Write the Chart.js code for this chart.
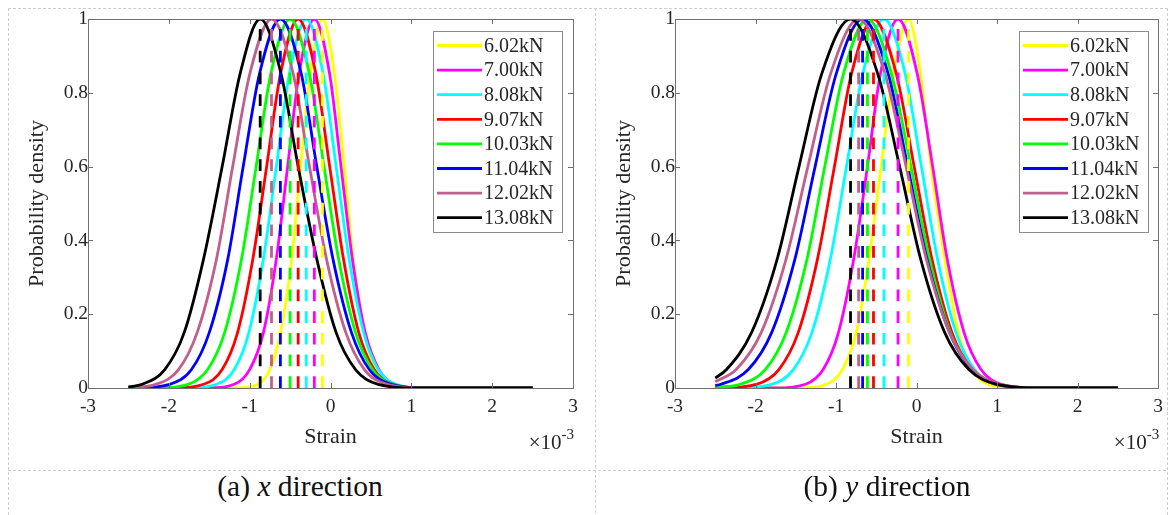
<!DOCTYPE html>
<html>
<head>
<meta charset="utf-8">
<script src="https://cdn.jsdelivr.net/npm/chart.js@4.4.0/dist/chart.umd.min.js"></script>
<style>
  body { margin: 0; width: 1170px; height: 515px; background: #fff; position: relative; overflow: hidden; font-family: "Liberation Serif", serif; }
  .frame { position: absolute; left: 8px; top: 8px; width: 1158px; height: 530px; border: 1px dashed #cdcdcd; }
  .vline { position: absolute; left: 595px; top: 8px; height: 530px; border-left: 1px dashed #cdcdcd; }
  .hline { position: absolute; left: 8px; top: 470px; width: 1158px; border-top: 1px dashed #cdcdcd; }
  canvas { position: absolute; top: 0; }
  .caption { position: absolute; top: 470px; height: 32px; line-height: 32px; font-size: 29.5px; color: #111; text-align: center; width: 400px; }
</style>
</head>
<body>
<div class="frame"></div>
<div class="vline"></div>
<div class="hline"></div>
<canvas id="chartA" width="596" height="470" style="left:0px"></canvas>
<canvas id="chartB" width="583" height="470" style="left:587px"></canvas>
<div class="caption" style="left:100px">(a) <i>x</i> direction</div>
<div class="caption" style="left:687px">(b) <i>y</i> direction</div>

<script>
// Нагрузки и цвета линий
const loads = ['6.02kN', '7.00kN', '8.08kN', '9.07kN', '10.03kN', '11.04kN', '12.02kN', '13.08kN'];
const colors = ['#ffff00', '#ff00ff', '#00ffff', '#ff0000', '#00ff00', '#0000ff', '#c0608c', '#000000'];

// Уровни плотности, на которых сняты точки кривых (слева направо)
const levels = [0, 0.01, 0.05, 0.15, 0.35, 0.6, 0.85, 1, 0.85, 0.6, 0.35, 0.15, 0.05, 0.01, 0];

// Ось x: отсчёты деформации (x10^-3), где кривая проходит каждый уровень
const strainA = [
    [-1.16, -0.90, -0.75, -0.62, -0.48, -0.37, -0.25, -0.10, 0.05, 0.17, 0.28, 0.42, 0.55, 0.70, 0.96],
    [-1.50, -1.19, -1.00, -0.83, -0.67, -0.53, -0.39, -0.20, -0.01, 0.13, 0.27, 0.43, 0.60, 0.79, 1.10],
    [-1.76, -1.41, -1.19, -1.01, -0.83, -0.67, -0.51, -0.30, -0.09, 0.07, 0.23, 0.41, 0.59, 0.81, 1.16],
    [-1.94, -1.57, -1.34, -1.15, -0.96, -0.79, -0.62, -0.40, -0.18, -0.01, 0.16, 0.35, 0.54, 0.77, 1.14],
    [-2.16, -1.76, -1.52, -1.31, -1.10, -0.92, -0.74, -0.50, -0.26, -0.08, 0.10, 0.31, 0.52, 0.76, 1.16],
    [-2.42, -1.99, -1.72, -1.50, -1.27, -1.08, -0.88, -0.62, -0.36, -0.17, 0.03, 0.26, 0.48, 0.75, 1.18],
    [null, -2.16, -1.88, -1.65, -1.41, -1.21, -1.00, -0.73, -0.46, -0.26, -0.05, 0.19, 0.42, 0.70, 1.15],
    [null, -2.33, -2.05, -1.81, -1.57, -1.34, -1.12, -0.87, -0.61, -0.40, -0.17, 0.07, 0.31, 0.59, 1.05]
];
const strainB = [
    [-1.44, -1.12, -0.92, -0.75, -0.59, -0.44, -0.29, -0.10, 0.05, 0.18, 0.35, 0.52, 0.69, 0.89, 1.20],
    [-1.75, -1.38, -1.16, -0.97, -0.78, -0.61, -0.45, -0.23, 0.01, 0.20, 0.38, 0.59, 0.80, 1.05, 1.45],
    [-2.25, -1.80, -1.53, -1.30, -1.07, -0.87, -0.67, -0.405, -0.14, 0.06, 0.26, 0.49, 0.72, 1.00, 1.44],
    [-2.46, -1.99, -1.71, -1.47, -1.23, -1.02, -0.81, -0.535, -0.25, -0.03, 0.19, 0.44, 0.69, 0.98, 1.47],
    [null, -2.19, -1.88, -1.62, -1.36, -1.14, -0.91, -0.61, -0.31, -0.07, 0.16, 0.42, 0.69, 1.00, 1.51],
    [null, -2.43, -2.09, -1.80, -1.51, -1.26, -1.00, -0.67, -0.35, -0.11, 0.13, 0.41, 0.69, 1.01, 1.55],
    [null, null, -2.24, -1.93, -1.62, -1.35, -1.07, -0.72, -0.39, -0.13, 0.12, 0.41, 0.70, 1.04, 1.60],
    [null, null, -2.36, -2.05, -1.73, -1.46, -1.18, -0.82, -0.48, -0.21, 0.05, 0.35, 0.65, 1.00, 1.58]
];

// Значение плотности в начале кривой (x = -2.5)
const startA = [0, 0, 0, 0, 0, 0, 0.001, 0.003];
const startB = [0, 0, 0, 0.0005, 0.002, 0.007, 0.017, 0.027];

// Средние значения (пунктирные линии)
const meanA = [-0.10, -0.20, -0.30, -0.40, -0.50, -0.62, -0.73, -0.87];
const meanB = [-0.10, -0.23, -0.405, -0.535, -0.61, -0.67, -0.72, -0.82];

// Границы кривых и шкал
const xStart = -2.5, xEnd = 2.5;
const xTicks = [-3, -2, -1, 0, 1, 2, 3];
const yTicks = [0, 0.2, 0.4, 0.6, 0.8, 1];

const FONT = '"Liberation Serif", "Times New Roman", serif';
const TEXT = '#262626';

function curvePoints(xs, start) {
    const pts = [{ x: xStart, y: start }];
    xs.forEach((x, i) => {
        if (x !== null && x > xStart) pts.push({ x: x, y: levels[i] });
    });
    pts.push({ x: xEnd, y: 0 });
    return pts;
}

// Рамка осей и внутренние штрихи как в MATLAB
const axesBox = {
    id: 'axesBox',
    afterDatasetsDraw(chart) {
        const { ctx, chartArea: a, scales } = chart;
        ctx.save();
        ctx.strokeStyle = '#707070';
        ctx.lineWidth = 1;
        ctx.strokeRect(Math.round(a.left) + 0.5, Math.round(a.top) + 0.5, Math.round(a.right - a.left), Math.round(a.bottom - a.top));
        ctx.beginPath();
        xTicks.forEach(v => {
            const px = Math.round(scales.x.getPixelForValue(v)) + 0.5;
            ctx.moveTo(px, a.bottom); ctx.lineTo(px, a.bottom - 5);
            ctx.moveTo(px, a.top); ctx.lineTo(px, a.top + 5);
        });
        yTicks.forEach(v => {
            const py = Math.round(scales.y.getPixelForValue(v)) + 0.5;
            ctx.moveTo(a.left, py); ctx.lineTo(a.left + 5, py);
            ctx.moveTo(a.right, py); ctx.lineTo(a.right - 5, py);
        });
        ctx.stroke();

        // множитель оси x
        ctx.fillStyle = TEXT;
        ctx.textAlign = 'right';
        ctx.textBaseline = 'alphabetic';
        ctx.font = '15px ' + FONT;
        const supW = ctx.measureText('-3').width;
        ctx.fillText('-3', a.right + 1, 439);
        ctx.font = '21px ' + FONT;
        ctx.fillText('\u00d710', a.right + 1 - supW, 449);
        ctx.restore();
    }
};

// Легенда в рамке (правый верхний угол)
const boxLegend = {
    id: 'boxLegend',
    afterDraw(chart, args, opts) {
        const { ctx } = chart;
        ctx.save();
        ctx.fillStyle = '#fff';
        ctx.fillRect(opts.x, opts.y, opts.w, opts.h);
        ctx.strokeStyle = '#8a8a8a';
        ctx.lineWidth = 1;
        ctx.strokeRect(opts.x + 0.5, opts.y + 0.5, opts.w, opts.h);
        ctx.font = '20px ' + FONT;
        ctx.textBaseline = 'middle';
        ctx.textAlign = 'left';
        loads.forEach((name, i) => {
            const cy = opts.y + 14.5 + i * 24.6;
            ctx.strokeStyle = colors[i];
            ctx.lineWidth = 2.8;
            ctx.beginPath();
            ctx.moveTo(opts.x + 4, cy);
            ctx.lineTo(opts.x + 49, cy);
            ctx.stroke();
            ctx.fillStyle = TEXT;
            ctx.fillText(name, opts.x + 51, cy + 1);
        });
        ctx.restore();
    }
};

function makeChart(canvasId, strain, starts, means, padRight, legendX) {
    const datasets = [];
    strain.forEach((xs, i) => {
        datasets.push({
            label: loads[i],
            data: curvePoints(xs, starts[i]),
            borderColor: colors[i],
            borderWidth: 2.8,
            pointRadius: 0,
            cubicInterpolationMode: 'monotone',
            order: 100 - i
        });
    });
    means.forEach((m, i) => {
        datasets.push({
            label: loads[i] + ' mean',
            data: [{ x: m, y: 0 }, { x: m, y: 1 }],
            borderColor: colors[i],
            borderWidth: 2.8,
            borderDash: [11.7, 10],
            pointRadius: 0,
            order: 50 - i
        });
    });

    return new Chart(document.getElementById(canvasId), {
        type: 'line',
        data: { datasets: datasets },
        options: {
            responsive: false,
            animation: false,
            devicePixelRatio: 1,
            layout: { padding: { top: 19, right: padRight, bottom: 0, left: 0 } },
            plugins: {
                legend: { display: false },
                tooltip: { enabled: false },
                boxLegend: { x: legendX, y: 31, w: 129, h: 201 }
            },
            scales: {
                x: {
                    type: 'linear',
                    min: -3, max: 3,
                    ticks: { stepSize: 1, color: TEXT, padding: 7, font: { family: FONT, size: 19.5 }, callback: v => String(v) },
                    grid: { display: false, drawTicks: false },
                    border: { display: false },
                    title: { display: true, text: 'Strain', color: TEXT, font: { family: FONT, size: 22 }, padding: { top: 0, bottom: 20 } },
                    afterFit: s => { s.height = 82; }
                },
                y: {
                    min: 0, max: 1,
                    ticks: { stepSize: 0.2, color: TEXT, padding: 0, font: { family: FONT, size: 19.5 }, callback: v => String(Math.round(v * 10) / 10) },
                    grid: { display: false, drawTicks: false },
                    border: { display: false },
                    title: { display: true, text: 'Probability density', color: TEXT, font: { family: FONT, size: 22 }, padding: { top: 24, bottom: 0 } },
                    afterFit: s => { s.width = 88; }
                }
            }
        },
        plugins: [axesBox, boxLegend]
    });
}

makeChart('chartA', strainA, startA, meanA, 23, 433);
makeChart('chartB', strainB, startB, meanB, 11, 432);
</script>
</body>
</html>
